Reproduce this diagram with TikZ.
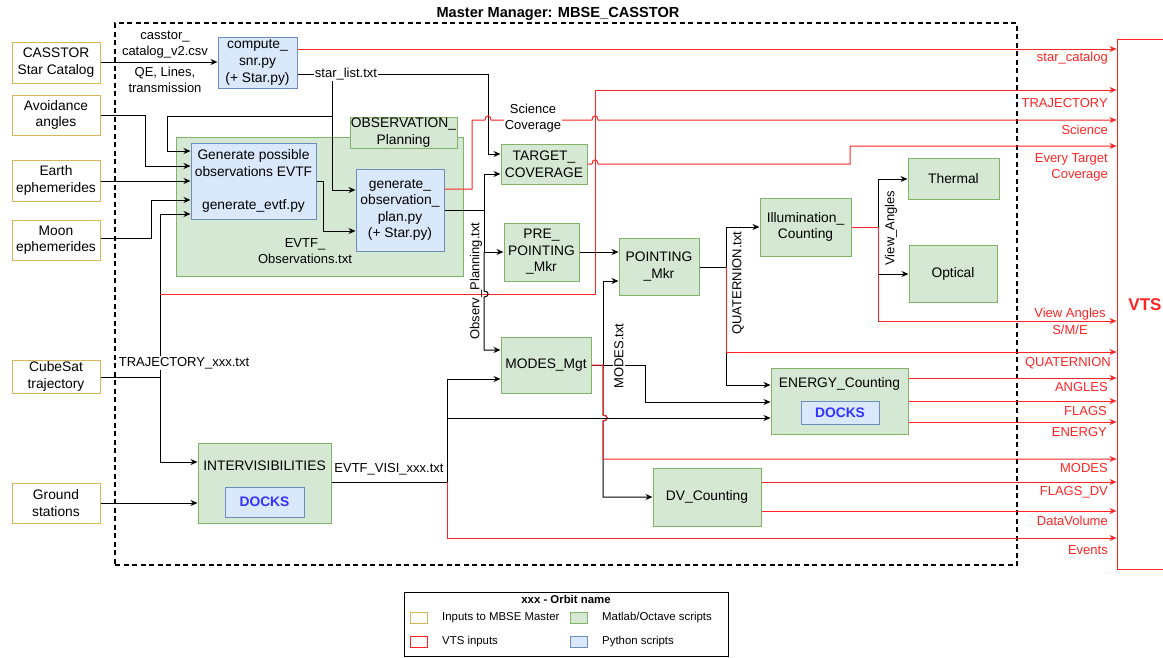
\documentclass[tikz,border=0pt]{standalone}
\usepackage{fontspec}
\setmainfont{Liberation Sans}
\usetikzlibrary{arrows.meta,calc}
\definecolor{inY}{HTML}{D6B656}
\definecolor{gFill}{HTML}{D5E8D4}
\definecolor{gLine}{HTML}{82B366}
\definecolor{bFill}{HTML}{DAE8FC}
\definecolor{bLine}{HTML}{6C8EBF}
\definecolor{vred}{HTML}{FF2424}
\definecolor{dockblue}{HTML}{3333FF}
\newcommand\fmain{\fontsize{13.8}{16.6}\selectfont}
\newcommand\fedge{\fontsize{13}{16}\selectfont}
\newcommand\fleg{\fontsize{11.4}{13}\selectfont}
\newcommand\ftitle{\fontsize{14.6}{17}\selectfont}
\newcommand\fvts{\fontsize{17}{20}\selectfont}
\tikzset{
  inbox/.style={draw=inY, fill=white, line width=1pt, align=center, inner sep=0pt, font=\fmain},
  gbox/.style={draw=gLine, fill=gFill, line width=1pt, align=center, inner sep=0pt, font=\fmain},
  bbox/.style={draw=bLine, fill=bFill, line width=1pt, align=center, inner sep=0pt, font=\fmain},
  dockbox/.style={draw=bLine, fill=bFill, line width=1pt, inner sep=0pt, font=\fmain\bfseries, text=dockblue},
  elbl/.style={font=\fedge, align=center, inner sep=1pt},
  rlbl/.style={font=\fedge, text=vred, anchor=east, align=right, inner sep=0pt},
  conn/.style={line width=1pt, draw=black},
  arr/.style={conn, -{Stealth[length=7pt,width=6pt]}},
  rconn/.style={line width=1pt, draw=vred},
  rarr/.style={rconn, -{Stealth[length=7pt,width=6pt]}},
}
\begin{document}
\begin{tikzpicture}[x=1pt,y=-1pt]
\useasboundingbox (0,0) rectangle (1163,657);

% master frame
\node[draw, line width=1.5pt, dash pattern=on 5pt off 3.5pt, minimum width=902, minimum height=542, inner sep=0pt] (master) at (566,294) {};
\node[font=\ftitle\bfseries] (mtitle) at (558,14) {Master Manager: MBSE\_CASSTOR};

% VTS
\node[draw=vred, line width=1pt, minimum width=63, minimum height=530, inner sep=0pt] (vts) at (1148.5,304) {};
\node[font=\fvts\bfseries, text=vred] (vtst) at (1145,305) {VTS};

% inputs
\node[inbox, minimum width=88, minimum height=41] (cat) at (56,62.5) {CASSTOR\\Star Catalog};
\node[inbox, minimum width=88, minimum height=40] (avoid) at (56,115) {Avoidance\\angles};
\node[inbox, minimum width=88, minimum height=41] (earth) at (56,180.5) {Earth\\ephemerides};
\node[inbox, minimum width=88, minimum height=40] (moon) at (56,240) {Moon\\ephemerides};
\node[inbox, minimum width=88, minimum height=33] (cube) at (56,376.5) {CubeSat\\trajectory};
\node[inbox, minimum width=88, minimum height=40] (ground) at (56,503) {Ground\\stations};

% scripts
\node[bbox, minimum width=79, minimum height=51] (snr) at (257.5,62.5) {compute\_\\snr.py\\(+ Star.py)};
\node[gbox, minimum width=287, minimum height=139] (obsplan) at (319.5,206.5) {};
\node[gbox, minimum width=107, minimum height=31] (obslabel) at (403.5,132.5) {OBSERVATION\_\\Planning};
\node[bbox, minimum width=125, minimum height=76] (gen) at (253.5,181) {Generate possible\\observations EVTF\\\mbox{}\\generate\_evtf.py};
\node[bbox, minimum width=88, minimum height=82] (plan) at (400,210) {generate\_\\observation\_\\plan.py\\(+ Star.py)};
\node[elbl] (evtfobs) at (305,251) {EVTF\_\\Observations.txt};

\node[gbox, minimum width=86, minimum height=40] (target) at (544,164) {TARGET\_\\COVERAGE};
\node[gbox, minimum width=75, minimum height=58] (pre) at (541.5,252) {PRE\_\\POINTING\\\_Mkr};
\node[gbox, minimum width=80, minimum height=57] (point) at (659,266.5) {POINTING\\\_Mkr};
\node[gbox, minimum width=90, minimum height=56] (modes) at (546,365) {MODES\_Mgt};
\node[gbox, minimum width=91, minimum height=58] (illum) at (805.5,227) {Illumination\_\\Counting};
\node[gbox, minimum width=91, minimum height=41] (thermal) at (953.5,178.5) {Thermal};
\node[gbox, minimum width=88, minimum height=57] (optical) at (953,273.5) {Optical};
\node[gbox, minimum width=137, minimum height=66] (energy) at (839.5,401) {};
\node[font=\fmain] (energyt) at (839.5,384) {ENERGY\_Counting};
\node[dockbox, minimum width=78, minimum height=23] (edocks) at (840,412.5) {DOCKS};
\node[gbox, minimum width=108, minimum height=58] (dv) at (707,497) {DV\_Counting};
\node[gbox, minimum width=133, minimum height=80] (inter) at (264.5,483) {};
\node[font=\fmain] (intert) at (264.5,466) {INTERVISIBILITIES};
\node[dockbox, minimum width=79, minimum height=30] (idocks) at (264.5,502) {DOCKS};

% junction coordinates
\coordinate (jsl) at (332,74);
\coordinate (jsl2) at (332,116);
\coordinate (jtr) at (160,377);
\coordinate (jtrr) at (160,294);
\coordinate (jop) at (484,210);
\coordinate (jmo) at (603,365);
\coordinate (jq) at (726,267);
\coordinate (jva) at (878,227);
\coordinate (jev) at (447,482);
\coordinate (jev2) at (447,418);

% catalog -> snr
\draw[arr] (cat.east |- 0,62) -- (snr.west |- 0,62);
\node[elbl] (lcat) at (165,45) {casstor\_\\catalog\_v2.csv};
\node[elbl] (lqe) at (165,79.5) {QE, Lines,\\transmission};

% star_catalog
\draw[rarr] (snr.east |- 0,49) -- (vts.west |- 0,49);
\node[rlbl] (rstar) at (1108,58) {star\_catalog};

% star_list
\draw[arr] (snr.east |- 0,74) -- (488,74) -- (488,154) -- (target.west |- 0,154);
\draw[arr] (jsl) -- (332,190) -- (plan.west |- 0,190);
\draw[arr] (jsl2) -- (167,116) -- (167,151) -- (gen.west |- 0,151);
\node[elbl, fill=white] (lsl) at (346,74) {star\_list.txt};

% inputs to gen
\draw[arr] (avoid.east |- 0,115) -- (145,115) -- (145,166) -- (gen.west |- 0,166);
\draw[arr] (earth.east |- 0,181) -- (gen.west |- 0,181);
\draw[arr] (moon.east |- 0,238) -- (151,238) -- (151,200) -- (gen.west |- 0,200);

% trajectory
\draw[conn] (cube.east |- 0,377) -- (jtr);
\draw[arr] (jtr) -- (160,214) -- (gen.west |- 0,214);
\draw[arr] (jtr) -- (160,462) -- (inter.west |- 0,462);
\node[elbl, fill=white] (ltr) at (184,363) {TRAJECTORY\_xxx.txt};
\draw[rarr] (jtrr) -- (595,294) -- (595,90) -- (vts.west |- 0,90);
\node[rlbl] (rtraj) at (1108,103) {TRAJECTORY};

% gen -> plan
\draw[arr] (gen.east |- 0,181) -- (323,181) -- (323,231) -- (plan.west |- 0,231);

% plan -> Science
\draw[rarr] (plan.east |- 0,189) -- (472,189) -- (472,120) -- (485,120) .. controls (485,114.5) and (491,114.5) .. (491,120) -- (592,120) .. controls (592,114.5) and (598,114.5) .. (598,120) -- (vts.west |- 0,120);
\node[elbl, fill=white] (lsci) at (533,118) {Science\\Coverage};
\node[rlbl] (rsci) at (1108,130) {Science};

% Observ_Planning
\draw[conn] (plan.east |- 0,210) -- (jop);
\draw[arr] (jop) -- (484,174) -- (target.west |- 0,174);
\draw[arr] (jop) -- (484,252) -- (pre.west |- 0,252);
\draw[arr] (484,252) -- (484,291) .. controls (489.5,291) and (489.5,297) .. (484,297) -- (484,350) -- (modes.west |- 0,350);
\node[elbl, rotate=90] (lop) at (476,281) {Observ\_Planning.txt};

% pre -> point
\draw[arr] (pre.east |- 0,252) -- (point.west |- 0,252);

% target -> Every Target Coverage
\draw[rarr] (target.east |- 0,164) -- (592,164) .. controls (592,158.5) and (598,158.5) .. (598,164) -- (850,164) -- (850,146) -- (vts.west |- 0,146);
\node[rlbl] (retc) at (1108,167) {Every Target\\Coverage};

% MODES
\draw[arr] (modes.east |- 0,365) -- (645,365) -- (645,402) -- (energy.west |- 0,402);
\draw[arr] (jmo) -- (603,281) -- (point.west |- 0,281);
\draw[arr] (jmo) -- (603,415) .. controls (608.5,415) and (608.5,421) .. (603,421) -- (603,497) -- (dv.west |- 0,497);
\draw[rarr] (modes.east |- 0,365) -- (jmo) -- (603,415) .. controls (608.5,415) and (608.5,421) .. (603,421) -- (603,459) -- (vts.west |- 0,459);
\node[elbl, fill=white, rotate=90] (lmo) at (619,356) {MODES.txt};
\node[rlbl] (rmo) at (1108,468) {MODES};

% QUATERNION
\draw[arr] (point.east |- 0,267) -- (jq) -- (726,227) -- (illum.west |- 0,227);
\draw[arr] (jq) -- (726,385) -- (energy.west |- 0,385);
\draw[rarr] (jq) -- (726,352) -- (vts.west |- 0,352);
\node[elbl, rotate=90] (lq) at (738,283) {QUATERNION.txt};
\node[rlbl] (rq) at (1111,363) {QUATERNION};

% illumination
\draw[arr] (jva) -- (878,179) -- (thermal.west |- 0,179);
\draw[arr] (jva) -- (878,274) -- (optical.west |- 0,274);
\draw[rarr] (illum.east |- 0,227) -- (jva) -- (878,321) -- (vts.west |- 0,321);
\node[elbl, rotate=90] (lva) at (891,228) {View\_Angles};
\node[font=\fedge, text=vred, align=center, inner sep=0pt] (rva) at (1070,321.5) {View Angles\\[0.5pt]S/M/E};

% energy outputs
\draw[rarr] (energy.east |- 0,378) -- (vts.west |- 0,378);
\node[rlbl] (rang) at (1108,387) {ANGLES};
\draw[rarr] (energy.east |- 0,401) -- (vts.west |- 0,401);
\node[rlbl] (rfl) at (1107,411) {FLAGS};
\draw[rarr] (energy.east |- 0,422) -- (vts.west |- 0,422);
\node[rlbl] (ren) at (1107,432) {ENERGY};

% dv outputs
\draw[rarr] (dv.east |- 0,482) -- (vts.west |- 0,482);
\node[rlbl] (rfdv) at (1108,492) {FLAGS\_DV};
\draw[rarr] (dv.east |- 0,511) -- (vts.west |- 0,511);
\node[rlbl] (rdv) at (1108,521) {DataVolume};

% intervisibilities
\draw[arr] (inter.east |- 0,482) -- (jev) -- (447,379) -- (modes.west |- 0,379);
\draw[arr] (jev2) -- (energy.west |- 0,418);
\draw[rarr] (jev) -- (447,538) -- (vts.west |- 0,538);
\node[rlbl] (rev) at (1108,550) {Events};
\node[elbl] (lvisi) at (389,469) {EVTF\_VISI\_xxx.txt};
\draw[arr] (ground.east |- 0,503) -- (inter.west |- 0,503);

% legend
\node[draw, line width=1pt, minimum width=324, minimum height=64, inner sep=0pt] (legend) at (566,624) {};
\node[font=\fleg\bfseries] (legt) at (566,599) {xxx - Orbit name};
\node[draw=inY, fill=white, line width=1pt, minimum width=17, minimum height=11, inner sep=0pt] (sw1) at (418.5,617.5) {};
\node[draw=gLine, fill=gFill, line width=1pt, minimum width=17, minimum height=11, inner sep=0pt] (sw2) at (578.5,617.5) {};
\node[draw=vred, fill=white, line width=1pt, minimum width=17, minimum height=11, inner sep=0pt] (sw3) at (418.5,641.5) {};
\node[draw=bLine, fill=bFill, line width=1pt, minimum width=17, minimum height=11, inner sep=0pt] (sw4) at (578.5,641.5) {};
\node[font=\fleg, anchor=west, inner sep=0pt] (lt1) at (442,618) {Inputs to MBSE Master};
\node[font=\fleg, anchor=west, inner sep=0pt] (lt2) at (602,618) {Matlab/Octave scripts};
\node[font=\fleg, anchor=west, inner sep=0pt] (lt3) at (442,642) {VTS inputs};
\node[font=\fleg, anchor=west, inner sep=0pt] (lt4) at (602,642) {Python scripts};
\end{tikzpicture}
\end{document}
